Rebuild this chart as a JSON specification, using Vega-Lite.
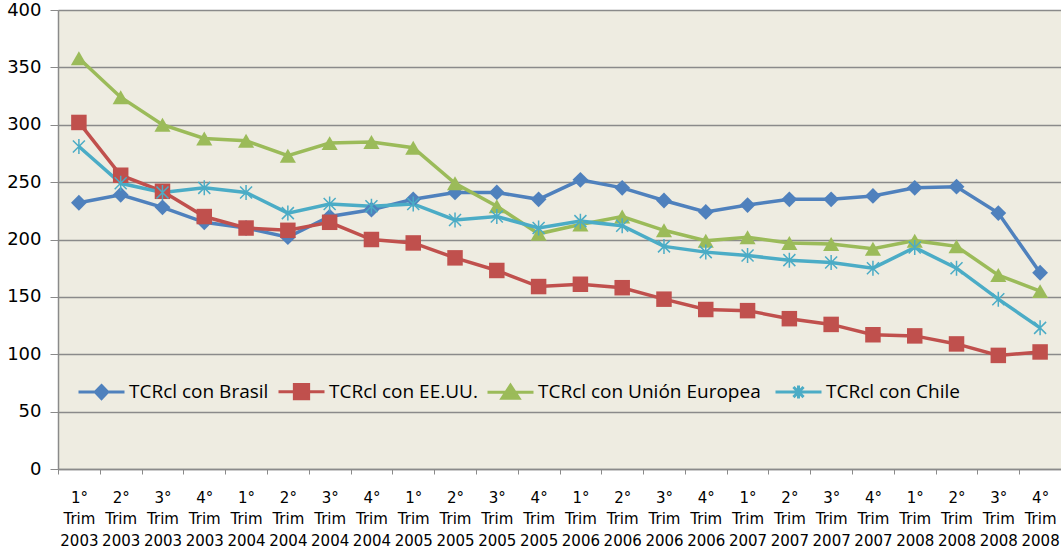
{
  "$schema": "https://vega.github.io/schema/vega-lite/v6.json",
  "width": 1003,
  "height": 459,
  "autosize": {"type": "none"},
  "padding": {"left": 58, "top": 10, "right": 0, "bottom": 81},
  "background": "white",
  "config": {
    "view": {"fill": "#EEECE1", "stroke": null},
    "font": "DejaVu Sans"
  },
  "datasets": {
    "d": [
      {"t": "1° Trim 2003", "s": "TCRcl con Brasil", "v": 232},
      {"t": "2° Trim 2003", "s": "TCRcl con Brasil", "v": 239},
      {"t": "3° Trim 2003", "s": "TCRcl con Brasil", "v": 228},
      {"t": "4° Trim 2003", "s": "TCRcl con Brasil", "v": 215},
      {"t": "1° Trim 2004", "s": "TCRcl con Brasil", "v": 210},
      {"t": "2° Trim 2004", "s": "TCRcl con Brasil", "v": 202},
      {"t": "3° Trim 2004", "s": "TCRcl con Brasil", "v": 220},
      {"t": "4° Trim 2004", "s": "TCRcl con Brasil", "v": 226},
      {"t": "1° Trim 2005", "s": "TCRcl con Brasil", "v": 235},
      {"t": "2° Trim 2005", "s": "TCRcl con Brasil", "v": 241},
      {"t": "3° Trim 2005", "s": "TCRcl con Brasil", "v": 241},
      {"t": "4° Trim 2005", "s": "TCRcl con Brasil", "v": 235},
      {"t": "1° Trim 2006", "s": "TCRcl con Brasil", "v": 252},
      {"t": "2° Trim 2006", "s": "TCRcl con Brasil", "v": 245},
      {"t": "3° Trim 2006", "s": "TCRcl con Brasil", "v": 234},
      {"t": "4° Trim 2006", "s": "TCRcl con Brasil", "v": 224},
      {"t": "1° Trim 2007", "s": "TCRcl con Brasil", "v": 230},
      {"t": "2° Trim 2007", "s": "TCRcl con Brasil", "v": 235},
      {"t": "3° Trim 2007", "s": "TCRcl con Brasil", "v": 235},
      {"t": "4° Trim 2007", "s": "TCRcl con Brasil", "v": 238},
      {"t": "1° Trim 2008", "s": "TCRcl con Brasil", "v": 245},
      {"t": "2° Trim 2008", "s": "TCRcl con Brasil", "v": 246},
      {"t": "3° Trim 2008", "s": "TCRcl con Brasil", "v": 223},
      {"t": "4° Trim 2008", "s": "TCRcl con Brasil", "v": 171},
      {"t": "1° Trim 2003", "s": "TCRcl con EE.UU.", "v": 302},
      {"t": "2° Trim 2003", "s": "TCRcl con EE.UU.", "v": 256},
      {"t": "3° Trim 2003", "s": "TCRcl con EE.UU.", "v": 242},
      {"t": "4° Trim 2003", "s": "TCRcl con EE.UU.", "v": 220},
      {"t": "1° Trim 2004", "s": "TCRcl con EE.UU.", "v": 210},
      {"t": "2° Trim 2004", "s": "TCRcl con EE.UU.", "v": 208},
      {"t": "3° Trim 2004", "s": "TCRcl con EE.UU.", "v": 215},
      {"t": "4° Trim 2004", "s": "TCRcl con EE.UU.", "v": 200},
      {"t": "1° Trim 2005", "s": "TCRcl con EE.UU.", "v": 197},
      {"t": "2° Trim 2005", "s": "TCRcl con EE.UU.", "v": 184},
      {"t": "3° Trim 2005", "s": "TCRcl con EE.UU.", "v": 173},
      {"t": "4° Trim 2005", "s": "TCRcl con EE.UU.", "v": 159},
      {"t": "1° Trim 2006", "s": "TCRcl con EE.UU.", "v": 161},
      {"t": "2° Trim 2006", "s": "TCRcl con EE.UU.", "v": 158},
      {"t": "3° Trim 2006", "s": "TCRcl con EE.UU.", "v": 148},
      {"t": "4° Trim 2006", "s": "TCRcl con EE.UU.", "v": 139},
      {"t": "1° Trim 2007", "s": "TCRcl con EE.UU.", "v": 138},
      {"t": "2° Trim 2007", "s": "TCRcl con EE.UU.", "v": 131},
      {"t": "3° Trim 2007", "s": "TCRcl con EE.UU.", "v": 126},
      {"t": "4° Trim 2007", "s": "TCRcl con EE.UU.", "v": 117},
      {"t": "1° Trim 2008", "s": "TCRcl con EE.UU.", "v": 116},
      {"t": "2° Trim 2008", "s": "TCRcl con EE.UU.", "v": 109},
      {"t": "3° Trim 2008", "s": "TCRcl con EE.UU.", "v": 99},
      {"t": "4° Trim 2008", "s": "TCRcl con EE.UU.", "v": 102},
      {"t": "1° Trim 2003", "s": "TCRcl con Unión Europea", "v": 358},
      {"t": "2° Trim 2003", "s": "TCRcl con Unión Europea", "v": 324},
      {"t": "3° Trim 2003", "s": "TCRcl con Unión Europea", "v": 300},
      {"t": "4° Trim 2003", "s": "TCRcl con Unión Europea", "v": 288},
      {"t": "1° Trim 2004", "s": "TCRcl con Unión Europea", "v": 286},
      {"t": "2° Trim 2004", "s": "TCRcl con Unión Europea", "v": 273},
      {"t": "3° Trim 2004", "s": "TCRcl con Unión Europea", "v": 284},
      {"t": "4° Trim 2004", "s": "TCRcl con Unión Europea", "v": 285},
      {"t": "1° Trim 2005", "s": "TCRcl con Unión Europea", "v": 280},
      {"t": "2° Trim 2005", "s": "TCRcl con Unión Europea", "v": 249},
      {"t": "3° Trim 2005", "s": "TCRcl con Unión Europea", "v": 229},
      {"t": "4° Trim 2005", "s": "TCRcl con Unión Europea", "v": 205},
      {"t": "1° Trim 2006", "s": "TCRcl con Unión Europea", "v": 213},
      {"t": "2° Trim 2006", "s": "TCRcl con Unión Europea", "v": 220},
      {"t": "3° Trim 2006", "s": "TCRcl con Unión Europea", "v": 208},
      {"t": "4° Trim 2006", "s": "TCRcl con Unión Europea", "v": 199},
      {"t": "1° Trim 2007", "s": "TCRcl con Unión Europea", "v": 202},
      {"t": "2° Trim 2007", "s": "TCRcl con Unión Europea", "v": 197},
      {"t": "3° Trim 2007", "s": "TCRcl con Unión Europea", "v": 196},
      {"t": "4° Trim 2007", "s": "TCRcl con Unión Europea", "v": 192},
      {"t": "1° Trim 2008", "s": "TCRcl con Unión Europea", "v": 199},
      {"t": "2° Trim 2008", "s": "TCRcl con Unión Europea", "v": 194},
      {"t": "3° Trim 2008", "s": "TCRcl con Unión Europea", "v": 169},
      {"t": "4° Trim 2008", "s": "TCRcl con Unión Europea", "v": 155},
      {"t": "1° Trim 2003", "s": "TCRcl con Chile", "v": 281},
      {"t": "2° Trim 2003", "s": "TCRcl con Chile", "v": 249},
      {"t": "3° Trim 2003", "s": "TCRcl con Chile", "v": 241},
      {"t": "4° Trim 2003", "s": "TCRcl con Chile", "v": 245},
      {"t": "1° Trim 2004", "s": "TCRcl con Chile", "v": 241},
      {"t": "2° Trim 2004", "s": "TCRcl con Chile", "v": 223},
      {"t": "3° Trim 2004", "s": "TCRcl con Chile", "v": 231},
      {"t": "4° Trim 2004", "s": "TCRcl con Chile", "v": 229},
      {"t": "1° Trim 2005", "s": "TCRcl con Chile", "v": 231},
      {"t": "2° Trim 2005", "s": "TCRcl con Chile", "v": 217},
      {"t": "3° Trim 2005", "s": "TCRcl con Chile", "v": 220},
      {"t": "4° Trim 2005", "s": "TCRcl con Chile", "v": 210},
      {"t": "1° Trim 2006", "s": "TCRcl con Chile", "v": 216},
      {"t": "2° Trim 2006", "s": "TCRcl con Chile", "v": 212},
      {"t": "3° Trim 2006", "s": "TCRcl con Chile", "v": 194},
      {"t": "4° Trim 2006", "s": "TCRcl con Chile", "v": 189},
      {"t": "1° Trim 2007", "s": "TCRcl con Chile", "v": 186},
      {"t": "2° Trim 2007", "s": "TCRcl con Chile", "v": 182},
      {"t": "3° Trim 2007", "s": "TCRcl con Chile", "v": 180},
      {"t": "4° Trim 2007", "s": "TCRcl con Chile", "v": 175},
      {"t": "1° Trim 2008", "s": "TCRcl con Chile", "v": 193},
      {"t": "2° Trim 2008", "s": "TCRcl con Chile", "v": 175},
      {"t": "3° Trim 2008", "s": "TCRcl con Chile", "v": 148},
      {"t": "4° Trim 2008", "s": "TCRcl con Chile", "v": 123}
    ]
  },
  "data": {"name": "d"},
  "encoding": {
    "x": {
      "field": "t",
      "type": "ordinal",
      "sort": null,
      "scale": {"type": "band", "paddingInner": 0, "paddingOuter": 0},
      "axis": {
        "title": null,
        "labelExpr": "isValid(datum.value) ? split(datum.value, ' ') : ''",
        "labelAngle": 0,
        "labelFont": "DejaVu Sans",
        "labelFontSize": 15,
        "labelLineHeight": 21.5,
        "labelColor": "black",
        "labelOverlap": false,
        "labelBound": false,
        "labelPadding": 16,
        "tickSize": 5,
        "tickBand": "extent",
        "tickColor": "#8a8a8a",
        "domainColor": "#8a8a8a",
        "domainWidth": 1.5,
        "grid": false
      }
    },
    "y": {
      "field": "v",
      "type": "quantitative",
      "scale": {"domain": [0, 400], "nice": false},
      "axis": {
        "title": null,
        "values": [0, 50, 100, 150, 200, 250, 300, 350, 400],
        "labelFont": "DejaVu Sans",
        "labelFontSize": 18,
        "labelColor": "black",
        "labelPadding": 9,
        "tickSize": 8,
        "tickColor": "#8a8a8a",
        "domainColor": "#8a8a8a",
        "domainWidth": 1.5,
        "grid": true,
        "gridColor": "#8a8a8a",
        "gridWidth": 1.5
      }
    }
  },
  "layer": [
    {
      "mark": {"type": "line", "strokeWidth": 3.5},
      "encoding": {
        "color": {
          "field": "s",
          "type": "nominal",
          "scale": {
            "domain": ["TCRcl con Brasil", "TCRcl con EE.UU.", "TCRcl con Unión Europea", "TCRcl con Chile"],
            "range": ["#4F81BD", "#C0504D", "#9BBB59", "#4BACC6"]
          },
          "legend": {
            "title": null,
            "orient": "none",
            "legendX": 19,
            "legendY": 357,
            "direction": "horizontal",
            "padding": 0,
            "labelFont": "Open Sans",
            "labelFontSize": 19,
            "labelColor": "black",
            "labelLimit": 0,
            "labelOffset": 3,
            "columnPadding": 3,
            "labelExpr": "replace(datum.label, 'Unión ', 'Unión  ')",
            "symbolSize": 2116,
            "symbolStrokeWidth": 3,
            "encode": {
              "symbols": {
                "update": {
                  "shape": {"signal": "datum.value === 'TCRcl con Brasil' ? 'M-1,0H1M0,-0.28L0.27,0L0,0.28L-0.27,0Z' : datum.value === 'TCRcl con EE.UU.' ? 'M-1,0H1M-0.31,-0.31H0.31V0.31H-0.31Z' : datum.value === 'TCRcl con Unión Europea' ? 'M-1,0H1M0,-0.3L0.37,0.27H-0.37Z' : 'M-1,0H1M0,-0.28V0.28M-0.22,-0.22L0.22,0.22M-0.22,0.22L0.22,-0.22'"},
                  "fill": {"scale": "color", "field": "value"},
                  "stroke": {"scale": "color", "field": "value"},
                  "strokeWidth": {"value": 3}
                }
              }
            }
          }
        }
      }
    },
    {
      "transform": [{"filter": "datum.s === 'TCRcl con Brasil'"}],
      "mark": {"type": "point", "shape": "diamond", "filled": true, "opacity": 1, "color": "#4F81BD", "size": 250}
    },
    {
      "transform": [{"filter": "datum.s === 'TCRcl con EE.UU.'"}],
      "mark": {"type": "point", "shape": "square", "filled": true, "opacity": 1, "color": "#C0504D", "size": 240}
    },
    {
      "transform": [{"filter": "datum.s === 'TCRcl con Unión Europea'"}],
      "mark": {"type": "point", "shape": "triangle-up", "filled": true, "opacity": 1, "color": "#9BBB59", "size": 260}
    },
    {
      "transform": [{"filter": "datum.s === 'TCRcl con Chile'"}],
      "mark": {"type": "point", "shape": "M0,-1V1M-0.8,-0.8L0.8,0.8M-0.8,0.8L0.8,-0.8", "filled": false, "opacity": 1, "color": "#4BACC6", "strokeWidth": 1.5, "size": 225}
    }
  ]
}
